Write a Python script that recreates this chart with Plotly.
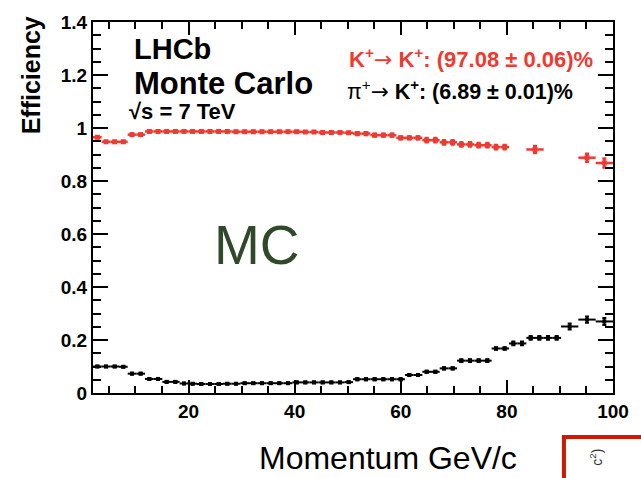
import numpy as np
import plotly.graph_objects as go

# ---------------- data ----------------
P_MIN, P_MAX, N_FINE = 2.0, 100.0, 60          # fine momentum binning (GeV/c)
fine_w = (P_MAX - P_MIN) / N_FINE

# pi -> K (black): 54 fine bins then 3 double-width bins
pik_eff_fine = [0.100, 0.100, 0.100, 0.099, 0.073, 0.073, 0.053, 0.053, 0.042, 0.042,
                0.036, 0.035, 0.034, 0.034, 0.034, 0.035, 0.035, 0.037, 0.037, 0.037,
                0.037, 0.037, 0.037, 0.040, 0.040, 0.040, 0.040, 0.040, 0.040, 0.041,
                0.052, 0.052, 0.052, 0.052, 0.052, 0.052, 0.068, 0.068, 0.080, 0.080,
                0.093, 0.093, 0.122, 0.122, 0.122, 0.122, 0.168, 0.168, 0.187, 0.187,
                0.208, 0.208, 0.208, 0.208]
pik_err_fine = [0.003] * 30 + [0.004] * 12 + [0.005] * 6 + [0.007] * 6
pik_eff_wide = [0.251, 0.277, 0.270]
pik_err_wide = [0.011, 0.012, 0.013]

# K -> K (red): 48 fine bins then 3 double-width bins
kk_eff_fine = [0.965, 0.948, 0.948, 0.948, 0.975, 0.975, 0.987, 0.987, 0.987, 0.987,
               0.987, 0.987, 0.987, 0.987, 0.987, 0.987, 0.986, 0.986, 0.986, 0.986,
               0.986, 0.986, 0.986, 0.986, 0.985, 0.985, 0.983, 0.983, 0.983, 0.982,
               0.979, 0.979, 0.973, 0.973, 0.973, 0.963, 0.963, 0.963, 0.954, 0.954,
               0.946, 0.946, 0.938, 0.938, 0.935, 0.935, 0.928, 0.928]
kk_err_fine = [0.003] * 30 + [0.005] * 8 + [0.008] * 10
kk_eff_wide = [0.919, 0.888, 0.868]
kk_err_wide = [0.013, 0.015, 0.017]
kk_wide_first_bin = [50, 56, 58]      # starting fine-bin index of each double bin
pik_wide_first_bin = [54, 56, 58]

y_ticks = [0, 0.2, 0.4, 0.6, 0.8, 1.0, 1.2, 1.4]
y_tick_text = ["0", "0.2", "0.4", "0.6", "0.8", "1", "1.2", "1.4"]
x_ticks = [20, 40, 60, 80, 100]


def series(eff_fine, err_fine, eff_wide, err_wide, wide_first):
    n = len(eff_fine)
    lo = P_MIN + np.arange(n) * fine_w
    p = list(lo + fine_w / 2)
    dp = [fine_w / 2] * n
    for k in wide_first:
        p.append(P_MIN + (k + 1) * fine_w)
        dp.append(fine_w)
    return p, dp, list(eff_fine) + list(eff_wide), list(err_fine) + list(err_wide)


RED = "#ee3a30"
FONT = "Liberation Sans, Arial, Helvetica, sans-serif"
ARROW = '<span style="font-family:DejaVu Sans">→</span>'

fig = go.Figure()
for (ef, er, ew, erw, wf, col, ms, th) in [
        (pik_eff_fine, pik_err_fine, pik_eff_wide, pik_err_wide, pik_wide_first_bin, "black", 4, 2),
        (kk_eff_fine, kk_err_fine, kk_eff_wide, kk_err_wide, kk_wide_first_bin, RED, 5, 2.5)]:
    p, dp, eff, err = series(ef, er, ew, erw, wf)
    fig.add_trace(go.Scatter(
        x=p, y=eff, mode="markers",
        marker=dict(symbol="square", size=ms, color=col),
        error_x=dict(type="data", array=dp, color=col, thickness=th, width=0),
        error_y=dict(type="data", array=err, color=col, thickness=th, width=2),
        showlegend=False, hoverinfo="skip"))

L, R, T, B = 93, 18, 14, 85
W, H = 641, 478
pw, ph = W - L - R, H - T - B


def px(x):
    return (x - L) / pw


def py(y):
    return (H - B - y) / ph


tickfont = dict(family=FONT, size=19, color="black", weight="bold")
fig.update_xaxes(range=[P_MIN, P_MAX], tickvals=x_ticks, ticks="inside", ticklen=13,
                 tickwidth=2, tickcolor="black", showline=True, linewidth=2,
                 linecolor="black", mirror="allticks", showgrid=False, zeroline=False,
                 tickfont=tickfont,
                 minor=dict(dtick=5, tick0=0, ticks="inside", ticklen=7, tickwidth=1.5,
                            tickcolor="black", showgrid=False))
fig.update_yaxes(range=[0, 1.4], tickvals=y_ticks, ticktext=y_tick_text,
                 ticks="inside", ticklen=15,
                 tickwidth=2, tickcolor="black", showline=True, linewidth=2,
                 linecolor="black", mirror="allticks", showgrid=False, zeroline=False,
                 tickfont=tickfont,
                 minor=dict(dtick=0.05, tick0=0, ticks="inside", ticklen=8, tickwidth=1.5,
                            tickcolor="black", showgrid=False))

ann = []
ann.append(dict(x=px(30), y=py(6), xanchor="center", yanchor="top", textangle=-90,
                text="<b>Efficiency</b>", font=dict(family=FONT, size=25, color="black")))
ann.append(dict(x=px(394), y=py(459), xanchor="center", yanchor="middle",
                text="Momentum GeV/c", font=dict(family=FONT, size=32, color="black")))
ann.append(dict(x=px(133), y=py(42), xanchor="left", yanchor="middle",
                text="<b>LHCb</b>", font=dict(family=FONT, size=29, color="black")))
ann.append(dict(x=px(133), y=py(77), xanchor="left", yanchor="middle",
                text="<b>Monte Carlo</b>", font=dict(family=FONT, size=31, color="black")))
ann.append(dict(x=px(128), y=py(105), xanchor="left", yanchor="middle",
                text="<b>√s = 7 TeV</b>", font=dict(family=FONT, size=22, color="black")))
ann.append(dict(x=px(352), y=py(51), xanchor="left", yanchor="middle",
                text="<b>K<sup>+</sup></b>" + ARROW + " <b>K<sup>+</sup>: (97.08 ± 0.06)%</b>",
                font=dict(family=FONT, size=22, color=RED)))
ann.append(dict(x=px(350), y=py(83), xanchor="left", yanchor="middle",
                text="π<sup>+</sup>" + ARROW + " <b>K<sup>+</sup>: (6.89 ± 0.01)%</b>",
                font=dict(family=FONT, size=21.5, color="black")))
ann.append(dict(x=px(260), y=py(242), xanchor="center", yanchor="middle",
                text="MC", font=dict(family=FONT, size=55, color="#2e4a28")))
ann.append(dict(x=px(606), y=py(448), xanchor="center", yanchor="top", textangle=-90,
                text="c<sup>2</sup>)", font=dict(family=FONT, size=14, color="#333333")))
for a in ann:
    a.update(xref="paper", yref="paper", showarrow=False)

fig.update_layout(
    width=W, height=H, margin=dict(l=L, r=R, t=T, b=B),
    paper_bgcolor="white", plot_bgcolor="white",
    annotations=ann,
    shapes=[dict(type="rect", xref="paper", yref="paper",
                 x0=px(573), x1=px(660), y0=py(438), y1=py(500),
                 line=dict(color="#cc1a00", width=4), fillcolor="rgba(0,0,0,0)")],
)

fig.write_html("out.html")
